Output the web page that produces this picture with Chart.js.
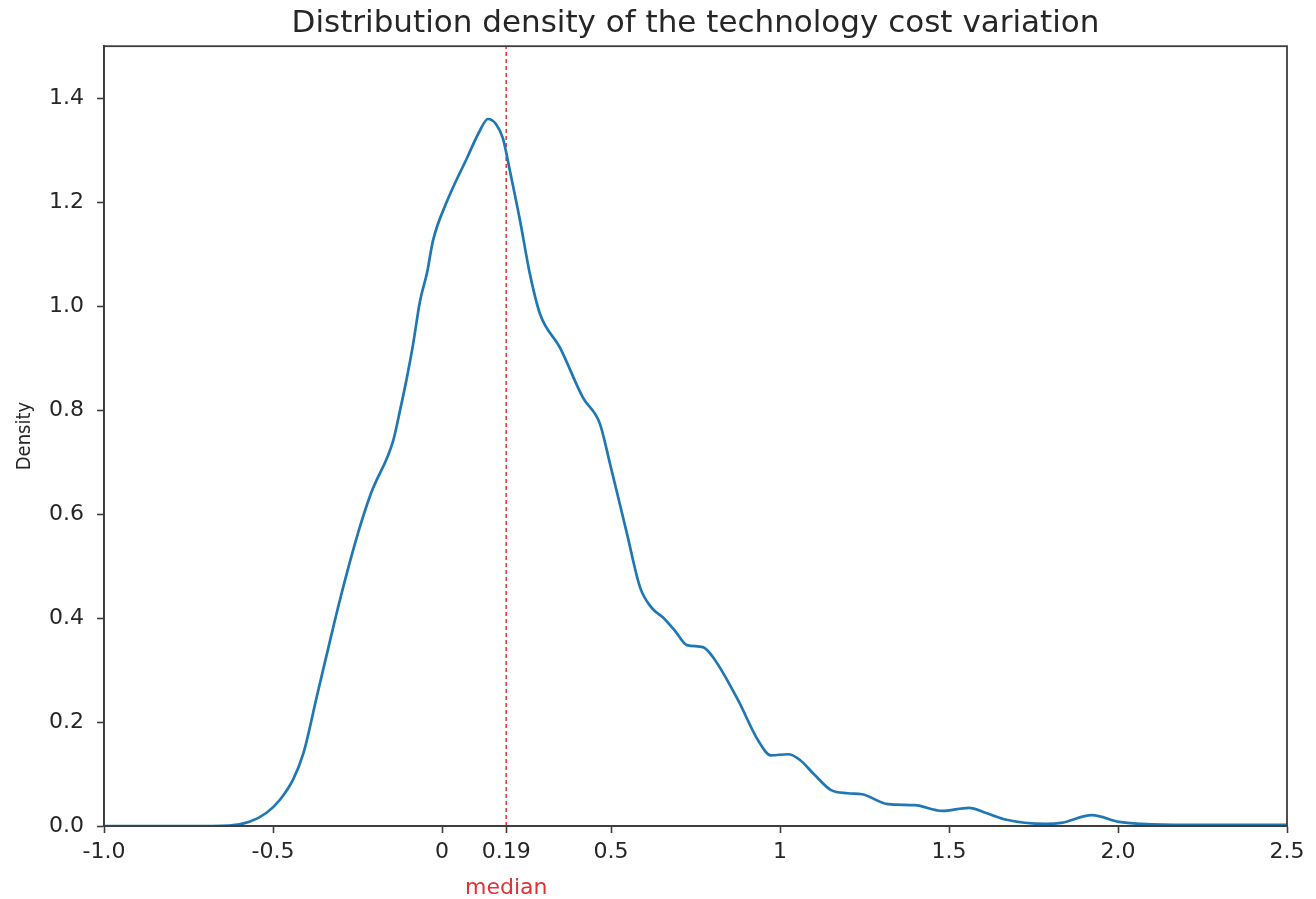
<!DOCTYPE html>
<html>
<head>
<meta charset="utf-8">
<script src="https://cdn.jsdelivr.net/npm/chart.js@4.4.1/dist/chart.umd.min.js"></script>
<style>
    html, body { margin: 0; padding: 0; background: #fff; }
    #wrap { width: 1316px; height: 899px; }
</style>
</head>
<body>
<div id="wrap"><canvas id="densityChart"></canvas></div>
<script>
    // density curve (x = cost variation, y = density)
    var costX = [-1.0, -0.75, -0.63, -0.57, -0.52, -0.48, -0.44, -0.41, -0.37, -0.33,
        -0.30, -0.25, -0.21, -0.145, -0.124, -0.104, -0.086, -0.065, -0.044, -0.027,
        0.015, 0.074, 0.11, 0.136, 0.16, 0.18, 0.201, 0.231, 0.26, 0.29,
        0.349, 0.417, 0.467, 0.497, 0.547, 0.586, 0.62, 0.654, 0.69, 0.725,
        0.772, 0.808, 0.876, 0.935, 0.973, 1.024, 1.059, 1.10, 1.151, 1.20,
        1.243, 1.32, 1.399, 1.479, 1.559, 1.61, 1.663, 1.787, 1.832, 1.923,
        2.003, 2.07, 2.2, 2.5];
    var densityY = [0.0, 0.0, 0.001, 0.008, 0.025, 0.05, 0.09, 0.14, 0.25, 0.36,
        0.44, 0.56, 0.64, 0.74, 0.80, 0.862, 0.925, 1.01, 1.065, 1.125,
        1.202, 1.285, 1.335, 1.36, 1.35, 1.323, 1.26, 1.164, 1.062, 0.985,
        0.92, 0.824, 0.774, 0.697, 0.563, 0.459, 0.42, 0.401, 0.375, 0.348,
        0.344, 0.319, 0.242, 0.165, 0.136, 0.138, 0.127, 0.10, 0.069, 0.063,
        0.061, 0.042, 0.040, 0.029, 0.035, 0.025, 0.013, 0.004, 0.006, 0.021,
        0.008, 0.004, 0.002, 0.002];

    var medianValue = 0.19;
    var xTickValues = [-1.0, -0.5, 0, 0.19, 0.5, 1, 1.5, 2.0, 2.5];
    var xTickLabels = ['-1.0', '-0.5', '0', '0.19', '0.5', '1', '1.5', '2.0', '2.5'];
    var yTickValues = [0, 0.2, 0.4, 0.6, 0.8, 1.0, 1.2, 1.4];

    var curvePoints = [];
    for (var i = 0; i < costX.length; i++) {
        curvePoints.push({x: costX[i], y: densityY[i]});
    }

    var axisColor = '#3c3c3c';
    var textColor = '#262626';
    var fontFamily = "'DejaVu Sans', sans-serif";

    // box around the plot area + the red "median" label under the axis
    var framePlugin = {
        id: 'framePlugin',
        afterDraw: function (chart) {
            var ctx = chart.ctx;
            var a = chart.chartArea;
            ctx.save();
            ctx.strokeStyle = axisColor;
            ctx.lineWidth = 1.8;
            ctx.strokeRect(a.left, a.top, a.right - a.left, a.bottom - a.top);

            var mx = chart.scales.x.getPixelForValue(medianValue);
            ctx.fillStyle = 'rgb(226, 50, 55)';
            ctx.font = '22px ' + fontFamily;
            ctx.textAlign = 'center';
            ctx.textBaseline = 'middle';
            ctx.fillText('median', mx, a.bottom + 62);
            ctx.restore();
        }
    };

    var ctx = document.getElementById('densityChart').getContext('2d');
    window.densityChart = new Chart(ctx, {
        type: 'line',
        data: {
            datasets: [
                {
                    data: curvePoints,
                    borderColor: '#1f77b4',
                    borderWidth: 2.7,
                    pointRadius: 0,
                    cubicInterpolationMode: 'monotone',
                    fill: false
                },
                {
                    data: [{x: medianValue, y: 0}, {x: medianValue, y: 1.5}],
                    borderColor: 'rgba(226, 40, 40, 0.9)',
                    borderWidth: 1.6,
                    borderDash: [4, 3],
                    pointRadius: 0,
                    fill: false
                }
            ]
        },
        options: {
            responsive: true,
            maintainAspectRatio: false,
            animation: false,
            layout: {
                padding: {left: 0, right: 29, top: 0, bottom: 0}
            },
            plugins: {
                legend: {display: false},
                tooltip: {enabled: false},
                title: {
                    display: true,
                    fullSize: false,
                    text: 'Distribution density of the technology cost variation',
                    color: textColor,
                    font: {family: fontFamily, size: 31, weight: 'normal'},
                    padding: {top: 5, bottom: 4}
                }
            },
            scales: {
                x: {
                    type: 'linear',
                    min: -1.0,
                    max: 2.5,
                    grid: {
                        display: true,
                        drawOnChartArea: false,
                        drawTicks: true,
                        tickLength: 7,
                        tickColor: axisColor,
                        tickWidth: 1.6
                    },
                    border: {display: true, color: axisColor, width: 1.8},
                    afterBuildTicks: function (scale) {
                        scale.ticks = xTickValues.map(function (v) { return {value: v}; });
                    },
                    ticks: {
                        autoSkip: false,
                        maxRotation: 0,
                        color: textColor,
                        padding: 6,
                        font: {family: fontFamily, size: 22},
                        callback: function (value) {
                            var idx = xTickValues.indexOf(value);
                            return idx >= 0 ? xTickLabels[idx] : '';
                        }
                    },
                    afterFit: function (scale) {
                        scale.height = 73;
                    }
                },
                y: {
                    min: 0,
                    max: 1.5,
                    grid: {
                        display: true,
                        drawOnChartArea: false,
                        drawTicks: true,
                        tickLength: 7,
                        tickColor: axisColor,
                        tickWidth: 1.6
                    },
                    border: {display: true, color: axisColor, width: 1.8},
                    afterBuildTicks: function (scale) {
                        scale.ticks = yTickValues.map(function (v) { return {value: v}; });
                    },
                    ticks: {
                        color: textColor,
                        padding: 13,
                        font: {family: fontFamily, size: 22},
                        callback: function (value) {
                            return value.toFixed(1);
                        }
                    },
                    title: {
                        display: true,
                        text: 'Density',
                        color: textColor,
                        font: {family: "'DejaVu Sans Condensed', 'DejaVu Sans', sans-serif", size: 20},
                        padding: {top: 13, bottom: 0}
                    },
                    afterFit: function (scale) {
                        scale.width = 104;
                    }
                }
            }
        },
        plugins: [framePlugin]
    });
</script>
</body>
</html>
